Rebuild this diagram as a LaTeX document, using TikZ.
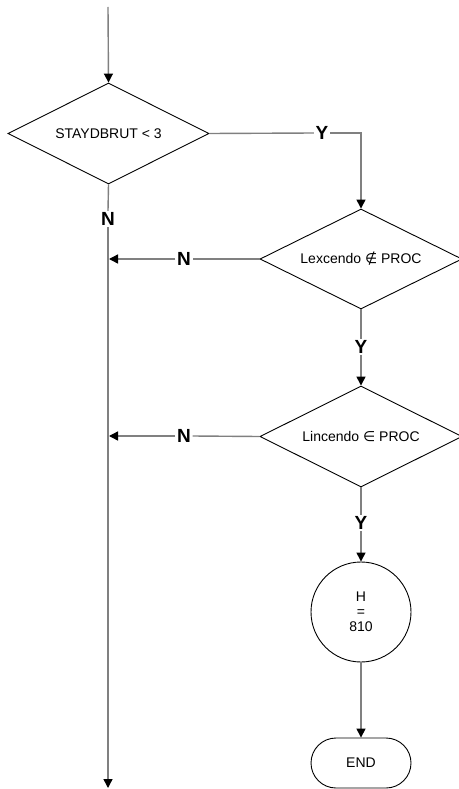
\documentclass[tikz,border=0pt]{standalone}
\usepackage{fontspec}
\setmainfont{Liberation Sans}
\newfontfamily\symf{DejaVu Sans}
\usetikzlibrary{shapes.geometric,arrows.meta}
\begin{document}
\begin{tikzpicture}[x=1pt,y=-1pt,
  dec/.style={diamond,aspect=2,draw=black,line width=0.9pt,inner sep=0pt,font=\fontsize{14}{16}\selectfont},
  lab/.style={inner sep=1.5pt,font=\fontsize{19}{21}\selectfont\bfseries},
  conn/.style={draw=black!50,line width=1.4pt},
  arr/.style={conn,-{Triangle[length=9pt,width=9pt,color=black]}},
  txt/.style={font=\fontsize{14}{16}\selectfont}]
\useasboundingbox (0,0) rectangle (458,789);
\coordinate (top) at (108,7);
\node[dec,minimum width=201pt,minimum height=101pt] (d1) at (108.5,133.5) {STAYDBRUT < 3};
\node[dec,minimum width=202pt,minimum height=100pt] (d2) at (361,259) {Lexcendo {\symf ∉} PROC};
\node[dec,minimum width=202pt,minimum height=101pt] (d3) at (361,436.5) {Lincendo {\symf ∈} PROC};
\node[circle,draw=black,line width=0.9pt,minimum size=100pt,inner sep=0pt,txt,align=center] (h) at (361,612) {H\\[-1pt]=\\[-1pt]810};
\node[rectangle,rounded corners=25pt,draw=black,line width=0.9pt,minimum width=100pt,minimum height=50pt,txt] (end) at (361,763) {END};
\node[lab] (y1) at (322,133) {Y};
\node[lab] (n1) at (108,219) {N};
\node[lab] (n2) at (184,259) {N};
\node[lab] (y2) at (361,347) {Y};
\node[lab] (n3) at (184,436) {N};
\node[lab] (y3) at (361,523) {Y};
\coordinate (bot) at (108,788);
\coordinate (j2) at (109,259);
\coordinate (j3) at (109,436);
\draw[arr] (top) -- (d1.north);
\draw[conn] (d1.east) -- (y1.west);
\draw[arr] (y1.east) -| (d2.north);
\draw[conn] (d1.south) -- (n1.north);
\draw[arr] (n1.south) -- (bot);
\draw[conn] (d2.west) -- (n2.east);
\draw[arr] (n2.west) -- (j2);
\draw[conn] (d2.south) -- (y2.north);
\draw[arr] (y2.south) -- (d3.north);
\draw[conn] (d3.west) -- (n3.east);
\draw[arr] (n3.west) -- (j3);
\draw[conn] (d3.south) -- (y3.north);
\draw[arr] (y3.south) -- (h.north);
\draw[arr] (h.south) -- (end.north);
\end{tikzpicture}
\end{document}
